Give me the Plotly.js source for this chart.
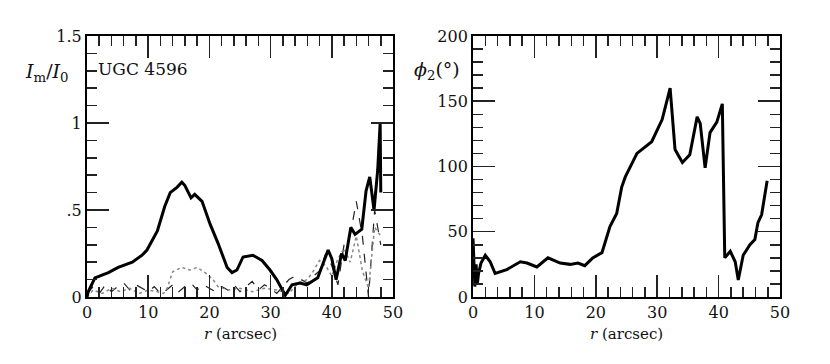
<!DOCTYPE html>
<html>
<head>
<meta charset="utf-8">
<script src="https://cdn.plot.ly/plotly-3.0.1.min.js"></script>
<style>
  html, body { margin: 0; padding: 0; background: #fff; }
  #fig { width: 830px; height: 364px; }
</style>
</head>
<body>
<div id="fig"></div>
<script>
// amplitude m=2 (trait epais)
const r_m2 = [0, 0.2, 1.3, 2.1, 3.5, 5.1, 5.9, 7.4, 9.0, 9.8, 11.5, 12.7, 13.6, 14.7, 15.5, 16.0, 17.0, 17.6, 18.8, 20.1, 21.4, 22.9, 23.7, 24.5, 25.5, 27.1, 28.6, 29.9, 31.0, 32.4, 33.5, 34.8, 35.9, 36.8, 37.7, 39.4, 40.0, 40.7, 41.6, 42.2, 43.1, 43.8, 44.9, 45.6, 46.2, 46.9, 47.5, 47.9, 48.0];
const a_m2 = [0, 0.03, 0.11, 0.12, 0.14, 0.17, 0.18, 0.20, 0.24, 0.27, 0.38, 0.52, 0.60, 0.63, 0.66, 0.64, 0.57, 0.59, 0.55, 0.42, 0.31, 0.17, 0.14, 0.155, 0.23, 0.24, 0.21, 0.155, 0.10, 0.01, 0.07, 0.08, 0.07, 0.09, 0.11, 0.27, 0.22, 0.10, 0.25, 0.21, 0.40, 0.36, 0.39, 0.61, 0.69, 0.50, 0.73, 1.0, 0.6];

// amplitude m=1 (pointille gris)
const r_m1 = [0, 1, 2.5, 4, 5.5, 7, 8.5, 10, 11.5, 12.5, 13.1, 14.0, 15.5, 16.8, 18.0, 19.3, 20.6, 21.4, 23, 25, 27, 29, 31, 33, 34.5, 36, 37, 38, 39, 40, 41, 42, 43, 44, 45, 46, 47, 48];
const a_m1 = [0, 0.04, 0.02, 0.05, 0.03, 0.05, 0.02, 0.04, 0.03, 0.02, 0.05, 0.145, 0.17, 0.155, 0.17, 0.14, 0.10, 0.06, 0.04, 0.05, 0.03, 0.05, 0.04, 0.02, 0.08, 0.10, 0.15, 0.21, 0.18, 0.12, 0.22, 0.28, 0.20, 0.35, 0.15, 0.05, 0.40, 0.35];

// amplitude m=3 (tirets)
const r_m3 = [0, 1, 2, 3, 4, 5, 6, 7, 8, 9, 10, 11, 12, 13, 14, 15, 16, 17, 18, 19, 20, 21, 22, 23, 24, 25, 26, 27, 28, 29, 30, 31, 32, 33, 34, 35, 36, 37, 38, 39, 40, 41, 42, 43, 44, 45, 46, 47, 48];
const a_m3 = [0.02, 0.06, 0.02, 0.07, 0.03, 0.06, 0.08, 0.04, 0.07, 0.05, 0.03, 0.06, 0.02, 0.04, 0.07, 0.03, 0.06, 0.08, 0.04, 0.07, 0.05, 0.03, 0.06, 0.04, 0.07, 0.03, 0.06, 0.09, 0.04, 0.07, 0.05, 0.02, 0.06, 0.10, 0.12, 0.10, 0.08, 0.12, 0.15, 0.25, 0.18, 0.07, 0.30, 0.35, 0.55, 0.35, 0.0, 0.50, 0.30];

// phase m=2
const r_phi = [0, 0.3, 0.5, 0.7, 0.9, 1.3, 2.0, 2.8, 3.6, 5.5, 7.7, 8.8, 10.4, 12.2, 14.2, 15.8, 17.1, 18.2, 19.5, 21.0, 22.3, 23.4, 24.2, 24.8, 26.7, 29.1, 30.8, 32.1, 32.9, 34.1, 35.3, 36.5, 37.0, 37.8, 38.6, 39.7, 40.6, 41.0, 41.9, 42.7, 43.2, 44.0, 45.1, 45.9, 46.4, 47.0, 47.9];
const phi = [45, 8, 25, 10, 18, 26, 32, 27, 18, 21, 27, 26, 23, 30, 26, 25, 26, 24, 30, 34, 54, 64, 84, 92, 110, 119, 136, 160, 113, 103, 109, 138, 133, 99, 126, 134, 148, 30, 35, 27, 13, 32, 40, 44, 57, 63, 89];

const police = "DejaVu Serif, serif";

function axe(extra) {
  return Object.assign({
    showgrid: false, zeroline: false, showline: true, mirror: "ticks",
    linecolor: "#000", linewidth: 2,
    ticks: "inside", ticklen: 22, tickwidth: 1.5, tickcolor: "#222",
    tickfont: { family: police, size: 16, color: "#111" },
    fixedrange: true
  }, extra);
}

const traces = [
  { x: r_m3, y: a_m3, xaxis: "x", yaxis: "y", mode: "lines",
    line: { color: "#222", width: 1.2, dash: "dash" } },
  { x: r_m1, y: a_m1, xaxis: "x", yaxis: "y", mode: "lines",
    line: { color: "#888", width: 1.5, dash: "dot" } },
  { x: r_m2, y: a_m2, xaxis: "x", yaxis: "y", mode: "lines",
    line: { color: "#000", width: 3 } },
  { x: r_phi, y: phi, xaxis: "x2", yaxis: "y2", mode: "lines",
    line: { color: "#000", width: 3 } }
];

const mineur = (d) => ({ dtick: d, ticklen: 10, tickwidth: 1.5, tickcolor: "#222", ticks: "inside" });
const titreX = { family: police, size: 15, color: "#111" };

const layout = {
  width: 830, height: 364,
  margin: { l: 0, r: 0, t: 0, b: 0 },
  paper_bgcolor: "#fff", plot_bgcolor: "#fff",
  showlegend: false,
  xaxis: axe({ domain: [0.1048, 0.4735], range: [0, 50], tickvals: [0, 10, 20, 30, 40, 50], minor: mineur(2) }),
  yaxis: axe({ domain: [0.1841, 0.9011], range: [0, 1.5], tickvals: [0, 0.5, 1, 1.5], ticktext: ["0", ".5", "1", "1.5"], minor: mineur(0.1) }),
  xaxis2: axe({ anchor: "y2", domain: [0.5699, 0.9398], range: [0, 50], tickvals: [0, 10, 20, 30, 40, 50], minor: mineur(2) }),
  yaxis2: axe({ anchor: "x2", domain: [0.1841, 0.9011], range: [0, 200], tickvals: [0, 50, 100, 150, 200], minor: mineur(10) }),
  annotations: [
    { text: "<i>r</i> (arcsec)", xref: "paper", yref: "paper",
      x: 240 / 830, y: 1 - 334 / 364, xanchor: "center", yanchor: "middle", showarrow: false, font: titreX },
    { text: "<i>r</i> (arcsec)", xref: "paper", yref: "paper",
      x: 626 / 830, y: 1 - 334 / 364, xanchor: "center", yanchor: "middle", showarrow: false, font: titreX },
    { text: "<i>I</i><sub>m</sub>/<i>I</i><sub>0</sub>", xref: "paper", yref: "paper",
      x: 47 / 830, y: 1 - 73 / 364, xanchor: "center", yanchor: "middle", showarrow: false,
      font: { family: police, size: 19, color: "#111" } },
    { text: "<i>ϕ</i><sub>2</sub>(°)", xref: "paper", yref: "paper",
      x: 437 / 830, y: 1 - 70 / 364, xanchor: "center", yanchor: "middle", showarrow: false,
      font: { family: police, size: 19, color: "#111" } },
    { text: "UGC 4596", xref: "paper", yref: "paper",
      x: 96 / 830, y: 1 - 69 / 364, xanchor: "left", yanchor: "middle", showarrow: false,
      font: { family: police, size: 17, color: "#111" } }
  ]
};

Plotly.newPlot("fig", traces, layout, { staticPlot: true });
</script>
</body>
</html>
